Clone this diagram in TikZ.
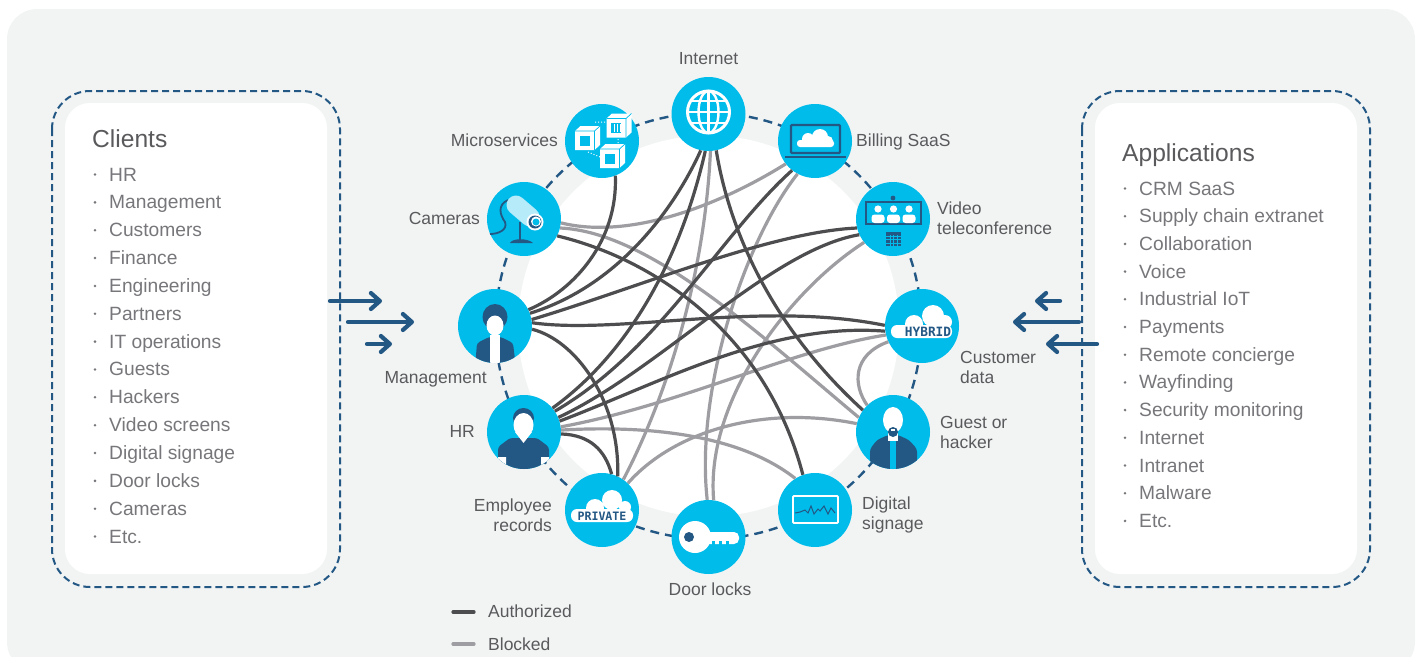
\documentclass[tikz,border=0pt]{standalone}
\usepackage{fontspec}
\setmainfont{Liberation Sans}
\newfontfamily\tagfont{DejaVu Sans Mono}
\usetikzlibrary{arrows.meta}
\definecolor{panelgray}{HTML}{F2F4F4}
\definecolor{hubblue}{HTML}{00BCEB}
\definecolor{navy}{HTML}{235784}
\definecolor{paleblue}{HTML}{B6EBFA}
\definecolor{darkline}{HTML}{4D4D4F}
\definecolor{greyline}{HTML}{9E9EA2}
\definecolor{textgray}{HTML}{5A5A5D}
\definecolor{itemgray}{HTML}{77777B}
\tikzset{
  hub/.style={circle, fill=hubblue, minimum size=74pt, inner sep=0pt},
  authorized/.style={draw=darkline, line width=3.2pt},
  blocked/.style={draw=greyline, line width=3.2pt},
  boxdash/.style={navy, line width=2pt, dash pattern=on 7pt off 4pt, rounded corners=38pt},
  whitebox/.style={fill=white, rounded corners=25pt},
  hublabel/.style={font=\fontsize{17.5}{20}\selectfont, text=textgray, inner sep=0pt},
  listtitle/.style={font=\fontsize{24.6}{28}\selectfont, text=textgray, inner sep=0pt, anchor=base west},
  listitem/.style={font=\fontsize{19.2}{22}\selectfont, text=itemgray, inner sep=0pt, anchor=base west},
  flow/.style={navy, line width=4.2pt, line cap=round, -{Straight Barb[round, length=9pt, width=16pt]}},
}
\begin{document}
\begin{tikzpicture}[x=1pt, y=-1pt]
  \useasboundingbox (0,0) rectangle (1420,656);
  \clip (0,0) rectangle (1420,656);

  % Panel
  \fill[panelgray, rounded corners=30pt] (7,9) rectangle (1415,672);

  % Clients box
  \draw[boxdash] (52,91) rectangle (340,587);
  \fill[whitebox] (65,103) rectangle (327,574);
  \node[listtitle] (clients) at (92,147.5) {Clients};
  \foreach \txt [count=\i] in {HR, Management, Customers, Finance, Engineering, Partners, IT operations, Guests, Hackers, Video screens, Digital signage, Door locks, Cameras, Etc.} {
    \fill[itemgray] (95,{174.5+27.85*(\i-1)}) circle (1.4pt);
    \node[listitem] (client\i) at (109,{181+27.85*(\i-1)}) {\txt};
  }

  % Applications box
  \draw[boxdash] (1082,91) rectangle (1370,587);
  \fill[whitebox] (1095,103) rectangle (1357,574);
  \node[listtitle] (applications) at (1122,161.5) {Applications};
  \foreach \txt [count=\i] in {CRM SaaS, Supply chain extranet, Collaboration, Voice, Industrial IoT, Payments, Remote concierge, Wayfinding, Security monitoring, Internet, Intranet, Malware, Etc.} {
    \fill[itemgray] (1125,{188.5+27.7*(\i-1)}) circle (1.4pt);
    \node[listitem] (app\i) at (1139,{195+27.7*(\i-1)}) {\txt};
  }

  % Flow arrows
  \foreach \name/\xa/\xb/\y in {ina/330/382/301, inb/348/414/322, inc/367/392/344, outa/1060/1035/301, outb/1079/1013/322, outc/1097/1046/344} {
    \coordinate (\name from) at (\xa,\y);
    \coordinate (\name to) at (\xb,\y);
    \draw[flow] (\name from) -- (\name to);
  }

  % Ring
  \fill[white] (708.5,326) circle (190.5pt);
  \draw[navy, line width=2.4pt, dash pattern=on 9pt off 6pt] (708.5,326) circle (213pt);

  % Hubs
  \node[hub] (internet) at (708.5,114) {};
  \node[hub] (billing) at (815,141) {};
  \node[hub] (video) at (893,219) {};
  \node[hub] (hybrid) at (922,326) {};
  \node[hub] (guest) at (893,432) {};
  \node[hub] (signage) at (815,510) {};
  \node[hub] (door) at (708.5,537) {};
  \node[hub] (records) at (602,510) {};
  \node[hub] (hr) at (524,432) {};
  \node[hub] (management) at (495,326) {};
  \node[hub] (cameras) at (524,219) {};
  \node[hub] (micro) at (602,141) {};

  % Blocked links
  \draw[blocked] (cameras.-6) .. controls (630,240) and (720,205) .. (billing.218);
  \draw[blocked] (cameras.-14) .. controls (650,232) and (760,335) .. (guest.157);
  \draw[blocked] (internet.-87) .. controls (705,270) and (670,390) .. (records.55);
  \draw[blocked] (hybrid.194) .. controls (790,350) and (680,405) .. (hr.8);
  \draw[blocked] (hr.3) .. controls (650,425) and (740,435) .. (signage.122);
  \draw[blocked] (records.46) .. controls (675,430) and (765,405) .. (guest.167);
  \draw[blocked] (door.92) .. controls (695,390) and (745,240) .. (billing.242);
  \draw[blocked] (door.82) .. controls (705,400) and (790,290) .. (video.219);
  \draw[blocked] (hybrid.205) .. controls (852,355) and (853,385) .. (guest.134);

  % Authorized links
  \draw[authorized] (micro.-69) .. controls (618,240) and (575,290) .. (management.26);
  \draw[authorized] (internet.-102) .. controls (676,205) and (621,285) .. (management.20);
  \draw[authorized] (video.194) .. controls (770,232) and (640,287) .. (management.10);
  \draw[authorized] (management.5) .. controls (620,335) and (760,300) .. (hybrid.179);
  \draw[authorized] (management.-5) .. controls (575,340) and (620,400) .. (records.65);
  \draw[authorized] (cameras.-27) .. controls (650,258) and (765,330) .. (signage.109);
  \draw[authorized] (internet.-78) .. controls (730,235) and (775,330) .. (guest.144);
  \draw[authorized] (internet.-95) .. controls (685,240) and (640,345) .. (hr.40);
  \draw[authorized] (billing.232) .. controls (720,235) and (660,350) .. (hr.34);
  \draw[authorized] (video.205) .. controls (770,250) and (660,370) .. (hr.23);
  \draw[authorized] (hybrid.188) .. controls (770,322) and (660,383) .. (hr.17);
  \draw[authorized] (hr.-3) .. controls (590,435) and (605,450) .. (records.75);

  % Internet icon
  \draw[white, line width=3pt] (708.5,112) circle (21pt);
  \draw[white, line width=2.4pt] (708.5,112) ellipse (10pt and 21pt);
  \draw[white, line width=2.4pt] (708.5,91) -- (708.5,133) (687.5,112) -- (729.5,112) (691,101) -- (726,101) (691,123) -- (726,123);

  % Billing icon
  \draw[navy, line width=2.2pt, rounded corners=1pt] (791,125) rectangle (840,153);
  \draw[navy, line width=2.4pt] (785,157) -- (846,157);
  \fill[white, rounded corners=3pt] (797,140) rectangle (834,147);
  \fill[white] (820,137) circle (8pt) (808,139) circle (6pt) (828,141) circle (5pt);

  % Video icon
  \fill[navy] (893,198) circle (2.4pt);
  \draw[navy, line width=2pt] (866,202) rectangle (921,224);
  \foreach \px in {878,893.5,909} {
    \fill[white] (\px,209) circle (3.6pt);
    \fill[white, rounded corners=3pt] (\px-6.5,223) -- (\px-6.5,214.5) -- (\px+6.5,214.5) -- (\px+6.5,223) -- cycle;
  }
  \fill[navy] (886,232) rectangle (901,246);
  \draw[hubblue, line width=0.6pt] (886,236) -- (901,236) (886,239.5) -- (901,239.5) (886,243) -- (901,243) (890,235) -- (890,246) (893.5,235) -- (893.5,246) (897,235) -- (897,246);

  % Hybrid cloud
  \fill[white, rounded corners=6pt] (891,325) rectangle (952,338);
  \fill[white] (933,316) circle (11pt) (914,324) circle (9pt) (945,322) circle (7pt);
  \node[font=\tagfont\bfseries\fontsize{12.8}{14}\selectfont, text=navy, inner sep=0pt] (hybridtag) at (928,332) {HYBRID};

  % Private cloud
  \fill[white, rounded corners=6pt] (571,509) rectangle (633,522);
  \fill[white] (612,500) circle (10pt) (595,508) circle (9pt) (625,507) circle (6pt);
  \node[font=\tagfont\bfseries\fontsize{11.6}{14}\selectfont, text=navy, inner sep=0pt] (privatetag) at (602,516) {PRIVATE};

  % Key icon
  \fill[white, rounded corners=5pt] (700,532) rectangle (739,544);
  \fill[white] (695,537) circle (16pt);
  \fill[navy] (689,537) circle (5pt);
  \foreach \px in {712,719,726} {
    \fill[hubblue] (\px,541) rectangle (\px+3,544.5);
  }

  % Signage icon
  \draw[white, line width=1.8pt, rounded corners=1pt] (793,496) rectangle (838,523);
  \draw[navy, line width=1pt] (795,513) -- (800,512) -- (805,510) -- (808,513) -- (811,506) -- (814,514) -- (818,509) -- (820,511) -- (824,506) -- (828,514) -- (831,508) -- (835,513);

  % Guest icon
  \begin{scope}
    \clip (893,432) circle (37pt);
    \fill[navy, rounded corners=3pt] (870,472) -- (870,449) -- (877,440) -- (888,435) -- (898,435) -- (909,440) -- (917,449) -- (917,472) -- cycle;
    \fill[hubblue] (890,440) rectangle (896,472);
    \fill[white] (888,433) rectangle (898,441);
    \fill[white] (893,420) ellipse (10pt and 13pt);
    \fill[navy] (893,432) ellipse (5pt and 5pt);
    \fill[white] (891,428.5) rectangle (895,430.5);
  \end{scope}

  % HR icon
  \begin{scope}
    \clip (524,432) circle (37pt);
    \fill[navy, rounded corners=3pt] (498,472) -- (498,447) -- (510,438) -- (537,438) -- (549,447) -- (549,472) -- cycle;
    \fill[white] (498,457) rectangle (506,472) (541,457) rectangle (549,472);
    \fill[navy] (523.5,418) ellipse (10.5pt and 10pt);
    \fill[white] (523.5,425) ellipse (10pt and 12pt);
    \fill[white] (515,432) -- (532,432) -- (523.5,443) -- cycle;
  \end{scope}

  % Management icon
  \begin{scope}
    \clip (495,326) circle (37pt);
    \fill[navy, rounded corners=3pt] (475,368) -- (477,343) -- (489,337) -- (501,337) -- (513,343) -- (516,368) -- cycle;
    \fill[navy] (495,317) ellipse (12.5pt and 13pt);
    \fill[white] (490,335) rectangle (500,368);
    \fill[white] (495,325.5) ellipse (8.5pt and 10pt);
  \end{scope}

  % Cameras icon
  \draw[navy, line width=1.8pt] (508,200) .. controls (497,205) and (500,215) .. (505,222) .. controls (508,230) and (498,234) .. (490,234);
  \draw[navy, line width=2.6pt] (520,222) -- (520,242);
  \fill[navy] (510,243) .. controls (512,238) and (528,238) .. (533,243) -- cycle;
  \draw[paleblue, line width=19pt, line cap=round] (516,205) -- (530,217);
  \fill[white] (535,222) circle (8.5pt);
  \fill[navy] (535,222) circle (6.5pt);
  \fill[white] (536,221.5) circle (5pt);
  \fill[hubblue] (536,222) circle (3.5pt);

  % Microservices icon
  \foreach \px/\py in {587.5/138, 619/125.5, 612.5/156} {
    \fill[white] (\px-12.5,\py-7) -- (\px-7,\py-12) -- (\px+12.5,\py-12) -- (\px+12.5,\py+7) -- (\px+7,\py+12) -- (\px-12.5,\py+12) -- cycle;
    \fill[hubblue] (\px-8,\py-2.5) rectangle (\px+2,\py+7.5);
    \draw[hubblue, line width=0.7pt] (\px-12.5,\py-7) -- (\px+7,\py-7) -- (\px+7,\py+12) (\px+7,\py-7) -- (\px+12.5,\py-12);
  }
  \foreach \px in {614,617,620} {
    \draw[white, line width=1pt] (\px,124) -- (\px,132);
  }
  \draw[white, line width=1pt, dotted] (595,122) -- (606,122) (618,139) -- (618,143) (588,152) -- (600,157);

  % Hub labels
  \node[hublabel, anchor=base] (internetlabel) at (708.5,64) {Internet};
  \node[hublabel, anchor=base west] (billinglabel) at (856,146) {Billing SaaS};
  \node[hublabel, anchor=west, align=left] (videolabel) at (937,218.5) {Video\\teleconference};
  \node[hublabel, anchor=west, align=left] (hybridlabel) at (960,367.5) {Customer\\data};
  \node[hublabel, anchor=west, align=left] (guestlabel) at (940,432.5) {Guest or\\hacker};
  \node[hublabel, anchor=west, align=left] (signagelabel) at (862,514.5) {Digital\\signage};
  \node[hublabel, anchor=base] (doorlabel) at (710,595) {Door locks};
  \node[hublabel, anchor=east, align=right] (recordslabel) at (552,515) {Employee\\records};
  \node[hublabel, anchor=base east] (hrlabel) at (475,437) {HR};
  \node[hublabel, anchor=base east] (managementlabel) at (487,383) {Management};
  \node[hublabel, anchor=base east] (cameraslabel) at (480,224) {Cameras};
  \node[hublabel, anchor=base east] (microlabel) at (558,146) {Microservices};

  % Legend
  \coordinate (authfrom) at (453,612);
  \coordinate (authto) at (474,612);
  \coordinate (blockfrom) at (453,644);
  \coordinate (blockto) at (474,644);
  \draw[authorized, line cap=round] (authfrom) -- (authto);
  \draw[blocked, line cap=round] (blockfrom) -- (blockto);
  \node[hublabel, anchor=base west] (authlabel) at (488,617) {Authorized};
  \node[hublabel, anchor=base west] (blocklabel) at (488,650) {Blocked};
\end{tikzpicture}
\end{document}
